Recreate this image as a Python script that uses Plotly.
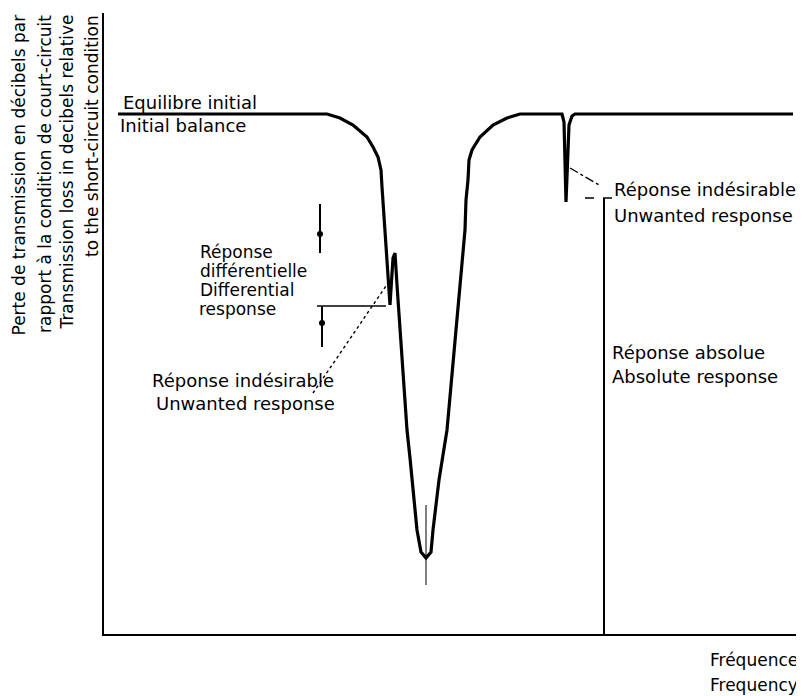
import plotly.graph_objects as go

# ---- data (frequency / loss, arbitrary linear units) ----
curve_freq = [14, 223, 236, 249, 263, 269, 274, 277, 278, 280, 282, 284, 286, 289, 291, 293, 294,
              297, 300, 303, 306, 308, 313, 317, 322, 327, 329, 335, 343, 352, 361, 362, 364, 365,
              368, 376, 389, 403, 416, 458, 460, 462, 464, 465, 468, 471, 689]
curve_level = [520, 520, 516, 509, 497, 487, 477, 464, 447, 419, 389, 354, 329, 376, 381, 349, 334,
               299, 254, 204, 176, 154, 104, 82, 76, 82, 104, 154, 204, 304, 404, 434, 454, 474,
               484, 497, 509, 516, 520, 520, 512, 432, 484, 509, 518, 520, 520]

# differential response arrows
diff_upper_x = [216, 216]
diff_upper_y = [430, 381]
diff_upper_dot = [400]
diff_lower_x = [218, 218]
diff_lower_y = [328, 287]
diff_lower_dot = [311]
diff_bar_x = [213, 282]
diff_bar_y = [328, 328]
# leader to the in-band unwanted response
leader1_x = [209, 284]
leader1_y = [241, 351]
# marker at the resonance minimum
min_mark_x = [322, 322]
min_mark_y = [129, 49]
# out-of-band unwanted response
leader2_x = [466, 497]
leader2_y = [466, 448]
unw_dash_x = [481, 508]
unw_dash_y = [436, 436]
abs_x = [500, 500]
abs_y = [436, 0]

X_MAX = 696
Y_MAX = 621

y_title_lines = ["Perte de transmission en décibels par",
                 "rapport à la condition de court-circuit",
                 "Transmission loss in decibels relative",
                 "to the short-circuit condition"]
y_title_x = [-86, -59, -38, -12]

labels_left = [
    ("Equilibre initial", 17, 531, 18),
    ("Initial balance", 14, 509, 18),
    ("Réponse", 94, 382, 17),
    ("différentielle", 94, 363, 17),
    ("Differential", 94, 344, 17),
    ("response", 93, 325, 17),
    ("Réponse indésirable", 508, 445, 18),
    ("Unwanted response", 508, 419, 18),
    ("Réponse absolue", 506, 282, 18),
    ("Absolute response", 506, 257, 18),
]
labels_center = [
    ("Réponse indésirable", 139, 254, 18),
    ("Unwanted response", 141, 231, 18),
]
labels_right = [
    ("Fréquence", 696, -26, 17),
    ("Frequency", 696, -51, 17),
]

FONT = "DejaVu Sans"
fig = go.Figure()

def line(x, y, w=1.6, dash="solid"):
    fig.add_trace(go.Scatter(x=x, y=y, mode="lines", line=dict(color="black", width=w, dash=dash),
                             hoverinfo="skip", showlegend=False, cliponaxis=False))

line(curve_freq, curve_level, w=3.2)
line(diff_upper_x, diff_upper_y, w=2)
line(diff_lower_x, diff_lower_y, w=2)
line(diff_bar_x, diff_bar_y, w=1.6)
line(leader1_x, leader1_y, w=1.4, dash="dot")
line(min_mark_x, min_mark_y, w=1)
line(leader2_x, leader2_y, w=1.4, dash="dashdot")
line(unw_dash_x, unw_dash_y, w=1.4, dash="dash")
line(abs_x, abs_y, w=2)
fig.add_trace(go.Scatter(x=[diff_upper_x[0], diff_lower_x[0]], y=diff_upper_dot + diff_lower_dot,
                         mode="markers", marker=dict(color="black", size=6),
                         hoverinfo="skip", showlegend=False, cliponaxis=False))

def px(x):
    return x / X_MAX

def py(y):
    return y / Y_MAX

for txt, xc in zip(y_title_lines, y_title_x):
    fig.add_annotation(x=px(xc), y=1.0, xref="paper", yref="paper", text=txt, textangle=-90,
                       showarrow=False, xanchor="center", yanchor="top",
                       font=dict(family=FONT, size=17, color="black"))
for txt, x, y, s in labels_left:
    fig.add_annotation(x=px(x), y=py(y), xref="paper", yref="paper", text=txt, showarrow=False,
                       xanchor="left", yanchor="middle", font=dict(family=FONT, size=s, color="black"))
for txt, x, y, s in labels_center:
    fig.add_annotation(x=px(x), y=py(y), xref="paper", yref="paper", text=txt, showarrow=False,
                       xanchor="center", yanchor="middle", font=dict(family=FONT, size=s, color="black"))
for txt, x, y, s in labels_right:
    fig.add_annotation(x=px(x), y=py(y), xref="paper", yref="paper", text=txt, showarrow=False,
                       xanchor="right", yanchor="middle", font=dict(family=FONT, size=s, color="black"))

# the page body adds an 8px offset, so the figure is sized/margined to compensate
fig.update_layout(
    width=796, height=688,
    margin=dict(l=96, r=4, t=5, b=62),
    paper_bgcolor="white", plot_bgcolor="white",
    xaxis=dict(range=[0, X_MAX], showline=True, linecolor="black", linewidth=2, showgrid=False,
               zeroline=False, showticklabels=False, ticks=""),
    yaxis=dict(range=[0, Y_MAX], showline=True, linecolor="black", linewidth=2, showgrid=False,
               zeroline=False, showticklabels=False, ticks=""),
    font=dict(family=FONT, color="black"),
)
fig.write_html("out.html")
